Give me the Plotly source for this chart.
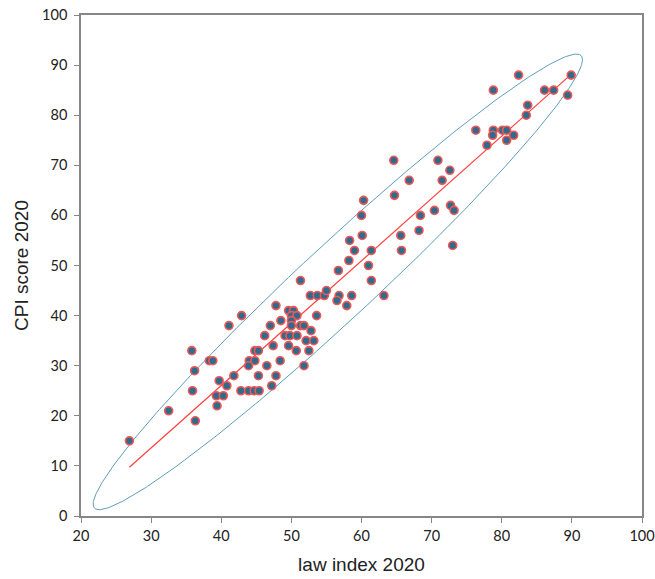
import numpy as np
import plotly.graph_objects as go

law_index = [26.9, 32.5, 35.8, 36.2, 35.9, 36.3, 38.3, 38.8, 39.7, 40.8,
             39.3, 40.3, 39.4, 41.8, 41.1, 42.9, 42.8, 43.9, 44.7, 45.4,
             44.0, 44.8, 43.9, 44.8, 45.3, 46.5, 45.3, 47.8, 47.2, 48.4,
             47.4, 46.2, 47.0, 48.5, 47.8, 49.6, 50.3, 50.0, 50.8, 50.0,
             50.0, 51.3, 51.8, 49.1, 49.8, 50.8, 52.8, 52.1, 53.2, 49.6,
             50.7, 52.5, 51.8, 53.6, 51.3, 52.7, 53.7, 54.7, 55.0, 56.8,
             56.5, 57.9, 58.6, 56.7, 58.2, 59.0, 58.3, 60.1, 60.0, 60.3,
             61.0, 61.4, 61.4, 63.2, 64.6, 66.8, 64.7, 65.6, 65.7, 68.4,
             68.2, 70.4, 70.9, 72.6, 71.5, 72.7, 73.2, 73.0, 76.3, 77.9,
             78.8, 78.7, 78.8, 80.1, 80.7, 80.7, 81.7, 82.4, 83.5, 83.7,
             86.1, 87.4, 89.4, 89.9]
cpi_score = [15, 21, 33, 29, 25, 19, 31, 31, 27, 26,
             24, 24, 22, 28, 38, 40, 25, 25, 25, 25,
             31, 31, 30, 33, 33, 30, 28, 28, 26, 31,
             34, 36, 38, 39, 42, 41, 41, 40, 40, 39,
             38, 38, 38, 36, 36, 36, 37, 35, 35, 34,
             33, 33, 30, 40, 47, 44, 44, 44, 45, 44,
             43, 42, 44, 49, 51, 53, 55, 56, 60, 63,
             50, 53, 47, 44, 71, 67, 64, 56, 53, 60,
             57, 61, 71, 69, 67, 62, 61, 54, 77, 74,
             77, 76, 85, 77, 77, 75, 76, 88, 80, 82,
             85, 85, 84, 88]

x_ticks = [20, 30, 40, 50, 60, 70, 80, 90, 100]
y_ticks = [0, 10, 20, 30, 40, 50, 60, 70, 80, 90, 100]

x = np.array(law_index, dtype=float)
y = np.array(cpi_score, dtype=float)

# linear trend
slope, intercept = np.polyfit(x, y, 1)
tx = np.array([x.min(), x.max()])
ty = slope * tx + intercept

# concentration ellipse from the data covariance
cov = np.cov(x, y)
vals, vecs = np.linalg.eigh(cov)          # ascending: minor, major
scales = np.array([1.85, 2.40])           # minor, major scale factors
t = np.linspace(0, 2 * np.pi, 400)
circ = np.vstack([np.cos(t), np.sin(t)])
ell = vecs @ ((np.sqrt(vals) * scales)[:, None] * circ)
ex = ell[0] + x.mean()
ey = ell[1] + y.mean()

fig = go.Figure()
fig.add_trace(go.Scatter(x=ex, y=ey, mode="lines",
                         line=dict(color="#5f9dc0", width=1), hoverinfo="skip"))
fig.add_trace(go.Scatter(x=tx, y=ty, mode="lines",
                         line=dict(color="#ff4040", width=1.2), hoverinfo="skip"))
fig.add_trace(go.Scatter(x=x, y=y, mode="markers",
                         marker=dict(size=8, color="#2e6b8c",
                                     line=dict(color="#f25757", width=1.6))))

axis_common = dict(showgrid=False, zeroline=False, showline=True,
                   linecolor="#878787", linewidth=1.5, mirror=True,
                   ticks="outside", ticklen=5, tickcolor="#878787", tickwidth=1,
                   automargin=False, ticklabeloverflow="allow",
                   tickfont=dict(family="Lato, Open Sans, sans-serif", size=14.5, color="#222"))

fig.update_layout(
    width=655, height=579,
    margin=dict(l=81, r=13, t=15, b=63),
    paper_bgcolor="white", plot_bgcolor="white",
    showlegend=False,
    xaxis=dict(range=[20, 100], tickvals=x_ticks, ticklabelstandoff=1, **axis_common,
               title=dict(text="law index 2020", standoff=15,
                          font=dict(family="Liberation Sans, Arial", size=19, color="#222"))),
    yaxis=dict(range=[0, 100], tickvals=y_ticks, ticklabelstandoff=4, **axis_common,
               title=dict(text="CPI score 2020", standoff=8,
                          font=dict(family="Liberation Sans, Arial", size=19, color="#222"))),
)

fig.write_html("out.html", config={"displayModeBar": False},
               post_script="document.body.style.margin='0';document.body.style.overflow='hidden';")
